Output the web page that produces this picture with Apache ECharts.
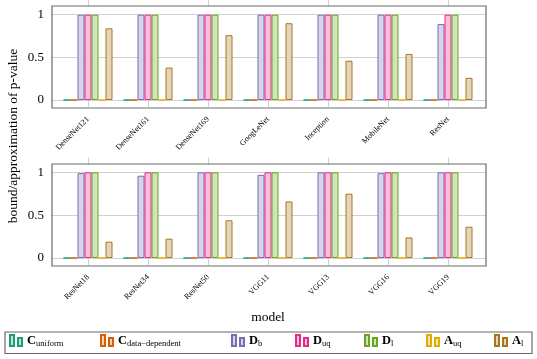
<!DOCTYPE html>
<html><head><meta charset="utf-8">
<script src="https://cdn.jsdelivr.net/npm/echarts@6/dist/echarts.min.js"></script>
<style>html,body{margin:0;padding:0;background:#fff}#c{width:537px;height:359px}</style>
</head><body><div id="c"></div>
<script>
// ---- data ----
const topModels = ['DenseNet121','DenseNet161','DenseNet169','GoogLeNet','Inception','MobileNet','ResNet'];
const bottomModels = ['ResNet18','ResNet34','ResNet50','VGG11','VGG13','VGG16','VGG19'];
const seriesNames = ['C_uniform','C_data-dependent','D_b','D_uq','D_l','A_uq','A_l'];
const legendMain = ['C','C','D','D','D','A','A'];
const legendSub = ['uniform','data\u2212dependent','b','uq','l','uq','l'];
const yTicks = [0, 0.5, 1];

const cUniformTop = [0,0,0,0,0,0,0];
const cDataTop    = [0,0,0,0,0,0,0];
const dBTop       = [1,1,1,1,1,1,0.89];
const dUqTop      = [1,1,1,1,1,1,1];
const dLTop       = [1,1,1,1,1,1,1];
const aUqTop      = [0,0,0,0,0,0,0];
const aLTop       = [0.84,0.38,0.76,0.9,0.46,0.54,0.26];

const cUniformBottom = [0,0,0,0,0,0,0];
const cDataBottom    = [0,0,0,0,0,0,0];
const dBBottom       = [0.99,0.96,1,0.97,1,0.99,1];
const dUqBottom      = [1,1,1,1,1,1,1];
const dLBottom       = [1,1,1,1,1,1,1];
const aUqBottom      = [0,0,0,0,0,0,0];
const aLBottom       = [0.19,0.225,0.44,0.66,0.75,0.24,0.365];

// ---- style ----
const colors = ['#1b9e77','#d95f02','#7570b3','#e7298a','#66a61e','#e6ab02','#a6761d'];
const legendX = [9,100,231,295,364,426,494];
const FONT = '"Liberation Serif", "DejaVu Serif", serif';

function tint(hex, a) {
  const n = parseInt(hex.slice(1), 16);
  const r = (n >> 16) & 255, g = (n >> 8) & 255, b = n & 255;
  const m = c => Math.round(c * a + 255 * (1 - a));
  return 'rgb(' + m(r) + ',' + m(g) + ',' + m(b) + ')';
}

const topData = [cUniformTop, cDataTop, dBTop, dUqTop, dLTop, aUqTop, aLTop];
const bottomData = [cUniformBottom, cDataBottom, dBBottom, dUqBottom, dLBottom, aUqBottom, aLBottom];

const chart = echarts.init(document.getElementById('c'), null, {renderer: 'canvas'});

const tickStyle = {show: true, alignWithLabel: true, inside: false, length: 7, lineStyle: {color: '#cfcfcf', width: 1}};

function catAxis(grid, data, pos, offset, labels) {
  return {
    gridIndex: grid, type: 'category', data: data, position: pos, offset: offset,
    axisLine: {show: false}, axisTick: tickStyle,
    axisLabel: labels ? {show: true, rotate: 45, fontSize: 8, margin: 10, color: '#000', fontFamily: FONT, interval: 0} : {show: false},
    splitLine: {show: false}
  };
}
function valAxisY(grid, shown) {
  return {
    gridIndex: grid, type: 'value', min: 0, max: 1, interval: 0.5, show: shown,
    axisLine: {show: false}, axisTick: {show: false},
    axisLabel: {show: shown, fontSize: 13, margin: 8, color: '#000', fontFamily: FONT,
      customValues: yTicks},
    splitLine: {show: shown, lineStyle: {color: '#d0d0d0', width: 1}}
  };
}

const series = [];
function addSeries(dataSets, xi, yi) {
  dataSets.forEach((d, i) => {
    series.push({
      name: seriesNames[i], type: 'bar', xAxisIndex: xi, yAxisIndex: yi,
      data: d, barWidth: 7, barGap: '0%',
      itemStyle: {color: tint(colors[i], 0.3), borderColor: colors[i], borderWidth: 1},
      silent: true, animation: false
    });
  });
}
addSeries(topData, 1, 1);
addSeries(bottomData, 4, 3);

const legends = seriesNames.map((n, i) => ({
  data: [n], left: legendX[i], top: 334, padding: 0, itemGap: 0,
  itemWidth: 12, itemHeight: 11, selectedMode: false,
  icon: 'path://M0,0h4v11h-4z M8,3h4v8h-4z',
  formatter: () => '{m|' + legendMain[i] + '}{s|' + legendSub[i] + '}',
  textStyle: {
    color: '#000', fontFamily: FONT,
    rich: {
      m: {fontSize: 12.5, fontWeight: 'bold', fontFamily: FONT, color: '#000'},
      s: {fontSize: 8.5, fontFamily: FONT, color: '#000', padding: [6, 0, 0, 0]}
    }
  }
}));

chart.setOption({
  animation: false,
  backgroundColor: '#fff',
  grid: [
    {left: 52, top: 14.7, width: 434, height: 85.3},
    {left: 58, top: 14.7, width: 420, height: 85.3},
    {left: 52, top: 172.3, width: 434, height: 85.7},
    {left: 58, top: 172.3, width: 420, height: 85.7}
  ],
  xAxis: [
    {gridIndex: 0, type: 'value', show: false},
    catAxis(1, topModels, 'bottom', 8, true),
    catAxis(1, topModels, 'top', 9, false),
    {gridIndex: 2, type: 'value', show: false},
    catAxis(3, bottomModels, 'bottom', 8, true),
    catAxis(3, bottomModels, 'top', 8, false)
  ],
  yAxis: [valAxisY(0, true), valAxisY(1, false), valAxisY(2, true), valAxisY(3, false)],
  legend: legends,
  series: series,
  graphic: [
    {type: 'rect', shape: {x: 52, y: 6, width: 434, height: 102}, style: {fill: 'none', stroke: '#6a6a6a', lineWidth: 1.2}, z: 100, silent: true},
    {type: 'rect', shape: {x: 52, y: 164, width: 434, height: 102}, style: {fill: 'none', stroke: '#6a6a6a', lineWidth: 1.2}, z: 100, silent: true},
    {type: 'rect', shape: {x: 5, y: 332, width: 527, height: 21.5}, style: {fill: 'none', stroke: '#6a6a6a', lineWidth: 1.2}, z: 100, silent: true},
    {type: 'text', x: 13, y: 136, rotation: Math.PI / 2, silent: true,
      style: {text: 'bound/approximation of p-value', font: '13.5px ' + FONT, fill: '#000', textAlign: 'center', textVerticalAlign: 'middle'}},
    {type: 'text', x: 268, y: 317, silent: true,
      style: {text: 'model', font: '13.5px ' + FONT, fill: '#000', textAlign: 'center', textVerticalAlign: 'middle'}}
  ]
});
</script>
</body></html>
